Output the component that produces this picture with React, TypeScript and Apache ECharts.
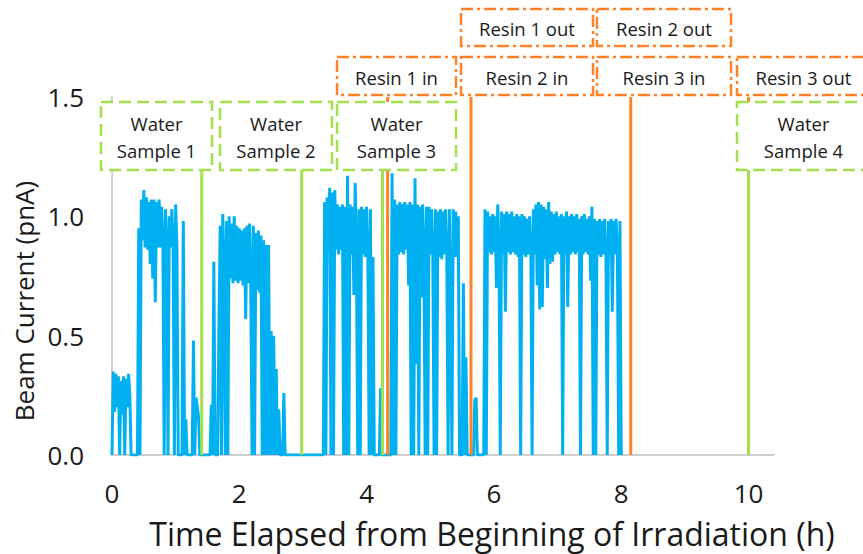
import React, { useEffect, useRef } from 'react';
import * as echarts from 'echarts';

// Beam current (pnA), one reading every 0.02 h from t = 0 h
const sampleStepHours = 0.02;
const beamCurrent = [
  0, 0.35, 0.18, 0.34, 0.2, 0.33, 0, 0.31, 0.17, 0.33,
  0, 0.32, 0.2, 0.34, 0.25, 0, 0, 0, 0, 0,
  0, 0.95, 0, 1.07, 0.9, 1.11, 0.87, 1.08, 0.86, 1.06,
  0.8, 1.07, 0.74, 1.07, 0.64, 1.06, 0.87, 1.07, 0.87, 1.04,
  0.88, 0, 1.03, 0.87, 0, 1.0, 0.87, 1.03, 0.88, 0,
  1.05, 0.87, 0, 0, 0, 0, 0.98, 0, 0.15, 0,
  0, 0, 0, 0, 0.48, 0, 0.24, 0.2, 0.16, 0,
  0, 0, 0, 0, 0, 0, 0, 0, 0.21, 0,
  0.81, 0, 0, 0, 0.55, 0.96, 0, 1.01, 0.78, 0,
  0.98, 0, 1.0, 0.74, 0.97, 0.72, 1.0, 0.73, 0.96, 0.72,
  0.95, 0.73, 0.94, 0.71, 0.95, 0.57, 0.96, 0.72, 0.97, 0.73,
  0, 0.96, 0, 0.93, 0.69, 0.94, 0.68, 0.92, 0, 0.9,
  0, 0.88, 0, 0.88, 0, 0.52, 0, 0.5, 0, 0.36,
  0, 0.19, 0, 0, 0, 0.26, 0, 0, 0, 0,
  0, 0, 0, 0, 0, 0, 0, 0, 0, 0,
  0, 0, 0, 0, 0, 0, 0, 0, 0, 0,
  0, 0, 0, 0, 0, 0, 0, 1.06, 0, 1.08,
  0.86, 1.12, 0, 1.1, 0, 1.11, 0.86, 1.05, 0.84, 1.04,
  0.86, 1.05, 0, 1.04, 0, 1.17, 0, 1.05, 0.84, 1.04,
  0.67, 1.14, 0.85, 0, 1.03, 0, 1.04, 0.84, 1.03, 0.83,
  1.04, 0.83, 0, 1.03, 0, 0.83, 0, 0, 0, 0,
  0, 0.28, 0, 0, 0, 0, 0, 0, 0, 0,
  1.18, 0, 1.07, 0, 1.05, 0.84, 1.06, 0.85, 1.05, 0.84,
  1.06, 0.86, 1.05, 0.71, 1.06, 0, 1.05, 0, 1.16, 0.38,
  1.05, 0, 1.04, 0.66, 1.05, 0.84, 0, 1.04, 0, 1.04,
  0.84, 1.03, 0.83, 0, 1.03, 0, 1.02, 0.83, 1.03, 0.82,
  1.02, 0.84, 1.03, 0.83, 0, 1.03, 0.65, 0, 1.03, 0.83,
  1.02, 0.83, 1.0, 0, 0, 0, 0.72, 0, 0.41, 0,
  0, 0, 0, 0, 0, 0.23, 0.24, 0, 0, 0,
  0, 0, 0, 1.03, 0, 1.02, 0.85, 1.0, 0.84, 1.01,
  0.85, 1.0, 0.7, 1.05, 0.84, 0, 1.02, 0.84, 1.01, 0.6,
  1.02, 0.85, 1.01, 0.84, 1.02, 0.85, 1.0, 0.84, 1.01, 0.83,
  1.0, 0, 1.01, 0.84, 1.0, 0.83, 0.99, 0.84, 1.0, 0.85,
  0, 1.03, 0.84, 1.05, 0.71, 1.06, 0.61, 1.05, 0.62, 1.04,
  0.82, 1.03, 0.7, 1.06, 0.8, 1.02, 0.81, 1.01, 0.84, 1.02,
  0.85, 1.0, 0.84, 1.01, 0, 1.0, 0.84, 1.02, 0.62, 1.0,
  0.84, 1.01, 0.85, 1.0, 0.84, 1.01, 0.85, 0.99, 0, 1.0,
  0.84, 1.01, 0.85, 0.99, 0.84, 1.0, 0.73, 1.04, 0, 0.99,
  0, 0.98, 0.84, 0.99, 0.83, 0.98, 0.84, 0.99, 0.83, 0,
  0.98, 0.84, 0.99, 0.6, 0.98, 0.84, 0.99, 0.83, 0, 0.98,
  0,
];

// Events (h)
const waterSampleTimes = [1.41, 2.98, 4.25, 10.0];
const waterSampleLabels = ['Water\nSample 1', 'Water\nSample 2', 'Water\nSample 3', 'Water\nSample 4'];
const resinChangeTimes = [4.33, 5.64, 8.15, 10.0];
const resinInLabels = ['Resin 1 in', 'Resin 2 in', 'Resin 3 in'];
const resinOutLabels = ['Resin 1 out', 'Resin 2 out', 'Resin 3 out'];
const waterLineTop = 1.2;
const resinLineTop = 1.5;

const BLUE = '#00B0F0';
const GREEN = '#A2E04C';
const ORANGE = '#FF8226';
const FONT = '"Open Sans", "Noto Sans", sans-serif';
const TEXT = '#1a1a1a';

export default function App() {
  const ref = useRef<HTMLDivElement>(null);

  useEffect(() => {
    if (!ref.current) return;
    const chart = echarts.init(ref.current, null, { renderer: 'svg' });

    const beamData = beamCurrent.map((v, i) => [Number((i * sampleStepHours).toFixed(2)), v]);

    const eventSeries: any[] = [];
    resinChangeTimes.forEach((t) => {
      eventSeries.push({
        type: 'line',
        data: [[t, 0], [t, resinLineTop]],
        showSymbol: false,
        lineStyle: { color: ORANGE, width: 3 },
        z: 3,
        silent: true,
      });
    });
    waterSampleTimes.forEach((t) => {
      eventSeries.push({
        type: 'line',
        data: [[t, 0], [t, waterLineTop]],
        showSymbol: false,
        lineStyle: { color: GREEN, width: 3 },
        z: 4,
        silent: true,
      });
    });

    const greenDash = [12, 6];
    const orangeDash = [12, 4, 3, 4];
    // layout of annotation boxes (pixels)
    const boxLayout = [
      { x: 101, y: 102, w: 111, h: 68, text: waterSampleLabels[0], kind: 'water' },
      { x: 220, y: 102, w: 112, h: 68, text: waterSampleLabels[1], kind: 'water' },
      { x: 337, y: 102, w: 119, h: 68, text: waterSampleLabels[2], kind: 'water' },
      { x: 737, y: 102, w: 133, h: 68, text: waterSampleLabels[3], kind: 'water' },
      { x: 337, y: 57, w: 119, h: 38, text: resinInLabels[0], kind: 'resin' },
      { x: 461, y: 57, w: 132, h: 38, text: resinInLabels[1], kind: 'resin' },
      { x: 597, y: 57, w: 134, h: 38, text: resinInLabels[2], kind: 'resin' },
      { x: 461, y: 9, w: 132, h: 37, text: resinOutLabels[0], kind: 'resin' },
      { x: 597, y: 9, w: 134, h: 37, text: resinOutLabels[1], kind: 'resin' },
      { x: 737, y: 57, w: 133, h: 38, text: resinOutLabels[2], kind: 'resin' },
    ];
    const graphics: any[] = [];
    boxLayout.forEach((b) => {
      const water = b.kind === 'water';
      graphics.push({
        type: 'rect',
        z: 100,
        shape: { x: b.x, y: b.y, width: b.w, height: b.h },
        style: {
          fill: '#ffffff',
          stroke: water ? GREEN : ORANGE,
          lineWidth: 2.5,
          lineDash: water ? greenDash : orangeDash,
        },
        silent: true,
      });
      graphics.push({
        type: 'text',
        z: 101,
        style: {
          text: b.text,
          x: b.x + b.w / 2,
          y: b.y + b.h / 2 + 1,
          align: 'center',
          verticalAlign: 'middle',
          font: `18.5px ${FONT}`,
          lineHeight: 27,
          fill: TEXT,
        },
        silent: true,
      });
    });

    chart.setOption({
      animation: false,
      grid: { left: 112, right: 89, top: 97, bottom: 94, containLabel: false },
      xAxis: {
        type: 'value',
        min: 0,
        max: 10.4,
        interval: 2,
        axisLine: { show: true, lineStyle: { color: '#BFBFBF', width: 1.5 } },
        axisTick: { show: false },
        splitLine: { show: false },
        axisLabel: {
          fontSize: 26,
          fontFamily: FONT,
          color: TEXT,
          margin: 25,
          showMaxLabel: false,
          formatter: (v: number) => (v % 2 === 0 ? String(v) : ''),
        },
        name: 'Time Elapsed from Beginning of Irradiation (h)',
        nameLocation: 'middle',
        nameGap: 62,
        nameTextStyle: { fontSize: 32, fontFamily: FONT, color: TEXT, padding: [0, 0, 0, 98] },
      },
      yAxis: {
        type: 'value',
        min: 0,
        max: 1.5,
        interval: 0.5,
        axisLine: { show: true, lineStyle: { color: '#BFBFBF', width: 1.5 } },
        axisTick: { show: false },
        splitLine: { show: false },
        axisLabel: {
          fontSize: 26,
          fontFamily: FONT,
          color: TEXT,
          margin: 28,
          formatter: (v: number) => v.toFixed(1),
        },
        name: 'Beam Current (pnA)',
        nameLocation: 'middle',
        nameGap: 70,
        nameTextStyle: { fontSize: 26, fontFamily: FONT, color: TEXT, padding: [0, 50, 0, 0] },
      },
      series: [
        {
          type: 'line',
          data: beamData,
          showSymbol: false,
          lineStyle: { color: BLUE, width: 3 },
          z: 2,
          silent: true,
        },
        ...eventSeries,
      ],
      graphic: graphics,
    });

    return () => chart.dispose();
  }, []);

  return (
    <div
      ref={ref}
      style={{ position: 'absolute', left: 0, top: 0, width: 863, height: 554, background: '#fff' }}
    />
  );
}
